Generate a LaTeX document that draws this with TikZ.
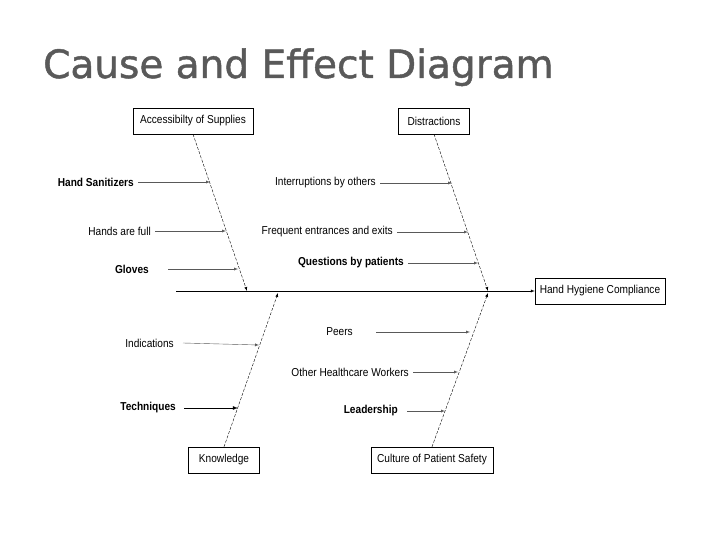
\documentclass[tikz,border=0pt]{standalone}
\usepackage{fontspec}
\setmainfont[FakeStretch=0.88]{Liberation Sans}
\newfontfamily\titlefont[FakeBold=1.2]{DejaVu Sans}
\begin{document}
\begin{tikzpicture}[x=1pt,y=-1pt,
  box/.style={draw,fill=white,inner sep=0pt,minimum height=26pt,font=\fontsize{11.5}{12}\selectfont},
  lbl/.style={inner sep=0pt,font=\fontsize{11.5}{12}\selectfont},
  sub/.style={-latex,gray!70!black},
  bone/.style={-latex,dashed,dash pattern=on 3pt off 1.5pt}]
\useasboundingbox (0,0) rectangle (720,540);
\node[anchor=base west,text=black!65,font=\titlefont\fontsize{39}{40}\selectfont,inner sep=0pt] (title) at (43,78) {Cause and Effect Diagram};
\node[box,minimum width=120pt] (acc) at (193,121) {Accessibilty of Supplies};
\node[box,minimum width=71pt] (dis) at (434,121) {Distractions};
\node[box,minimum width=130pt] (hhc) at (600,291) {Hand Hygiene Compliance};
\node[box,minimum width=71pt] (kno) at (224,460) {Knowledge};
\node[box,minimum width=122pt] (cul) at (432,460) {Culture of Patient Safety};
\coordinate (s0) at (176,291);
\draw[-latex] (s0) -- (hhc.west);
\coordinate (a1) at (247,291);
\coordinate (d1) at (488,291);
\coordinate (k1) at (278,293);
\coordinate (c1) at (488,293);
\draw[bone] (acc.south) -- (a1);
\draw[bone] (dis.south) -- (d1);
\draw[bone] (kno.north) -- (k1);
\draw[bone] (cul.north) -- (c1);
\node[lbl,anchor=east,font=\bfseries\fontsize{11.5}{12}\selectfont] (hs) at (134,182) {Hand Sanitizers};
\draw[sub] (hs.east)++(4,0) -- (210,182);
\node[lbl,anchor=east] (hf) at (151,231) {Hands are full};
\draw[sub] (hf.east)++(4,0) -- (226,231);
\node[lbl,anchor=east,font=\bfseries\fontsize{11.5}{12}\selectfont] (gl) at (149,269) {Gloves};
\draw[sub] (gl.east)++(19,0) -- (238,269);
\node[lbl,anchor=east] (io) at (376,183) {Interruptions by others};
\draw[sub] (io.east)++(4,0) -- (452,183);
\node[lbl,anchor=east] (fe) at (393,232) {Frequent entrances and exits};
\draw[sub] (fe.east)++(4,0) -- (468,232);
\node[lbl,anchor=east,font=\bfseries\fontsize{11.5}{12}\selectfont] (qp) at (404,263) {Questions by patients};
\draw[sub] (qp.east)++(4,0) -- (478,263);
\node[lbl,anchor=east] (ind) at (174,343) {Indications};
\draw[sub] (ind.east)++(9,0) -- (259,345);
\node[lbl,anchor=east,font=\bfseries\fontsize{11.5}{12}\selectfont] (tec) at (176,408) {Techniques};
\draw[-latex,thick] (tec.east)++(8,0) -- (238,408);
\node[lbl,anchor=east] (pe) at (353,332) {Peers};
\draw[sub] (pe.east)++(23,0) -- (470,332);
\node[lbl,anchor=east] (oh) at (409,372) {Other Healthcare Workers};
\draw[sub] (oh.east)++(4,0) -- (458,372);
\node[lbl,anchor=east,font=\bfseries\fontsize{11.5}{12}\selectfont] (le) at (398,411) {Leadership};
\draw[sub] (le.east)++(9,0) -- (445,411);
\end{tikzpicture}
\end{document}
